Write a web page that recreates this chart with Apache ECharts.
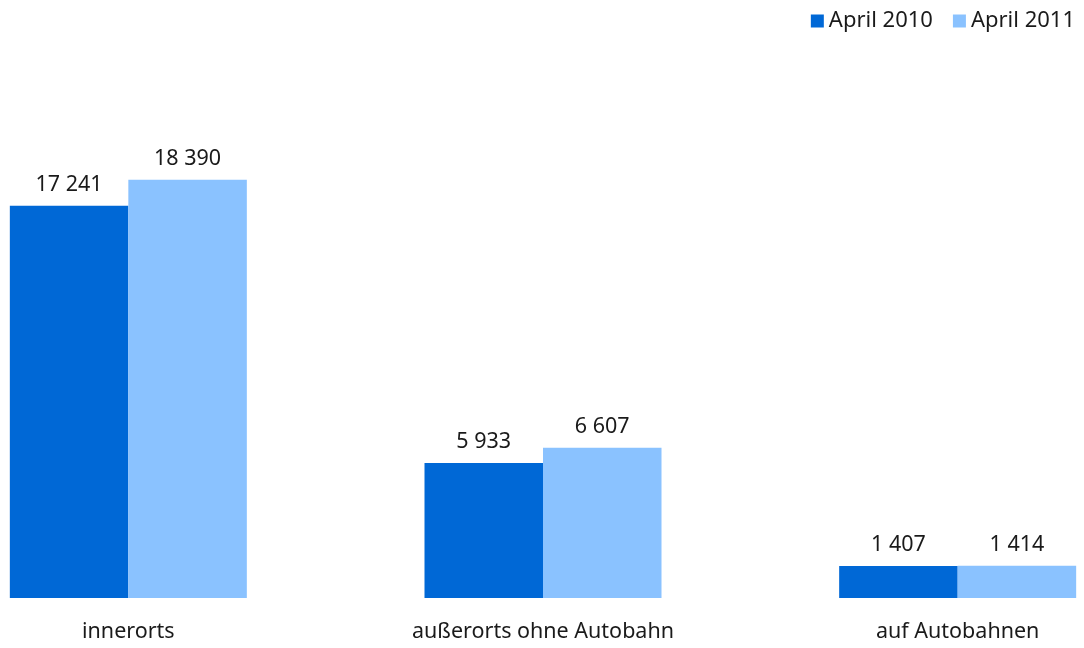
<!DOCTYPE html>
<html>
<head>
<meta charset="utf-8">
<script src="https://cdn.jsdelivr.net/npm/echarts@6/dist/echarts.min.js"></script>
<style>
  html, body { margin: 0; padding: 0; background: #fff; }
  #main { width: 1084px; height: 648px; }
</style>
</head>
<body>
<div id="main"></div>
<script>
// Kategorien und Werte
const categories = ['innerorts', 'außerorts ohne Autobahn', 'auf Autobahnen'];
const april2010 = [17241, 5933, 1407];
const april2011 = [18390, 6607, 1414];

const fontFamily = '"Noto Sans", "DejaVu Sans", sans-serif';

// Tausendertrennzeichen als Leerzeichen
const fmt = (v) => String(v).replace(/\B(?=(\d{3})+(?!\d))/g, ' ');

const chart = echarts.init(document.getElementById('main'));

const labelStyle = {
  show: true,
  position: 'top',
  distance: 10,
  color: '#1a1a1a',
  fontSize: 21.5,
  fontFamily: fontFamily,
  formatter: (p) => fmt(p.value)
};

const option = {
  animation: false,
  legend: {
    top: 5,
    right: 4,
    itemWidth: 13,
    itemHeight: 13,
    itemGap: 20,
    icon: 'rect',
    textStyle: { fontSize: 22, fontFamily: fontFamily, color: '#1a1a1a' },
    data: ['April 2010', 'April 2011']
  },
  grid: {
    left: -79,
    right: -81,
    top: 143,
    bottom: 50,
    outerBoundsMode: 'none'
  },
  xAxis: {
    type: 'category',
    data: categories,
    axisLine: { show: false },
    axisTick: { show: false },
    axisLabel: {
      margin: 23,
      fontSize: 21.5,
      fontFamily: fontFamily,
      color: '#1a1a1a'
    }
  },
  yAxis: {
    type: 'value',
    min: 0,
    max: 20000,
    show: false,
    splitLine: { show: false }
  },
  series: [
    {
      name: 'April 2010',
      type: 'bar',
      barWidth: 118.5,
      barGap: '0%',
      itemStyle: { color: '#0068D6' },
      label: labelStyle,
      data: april2010
    },
    {
      name: 'April 2011',
      type: 'bar',
      barWidth: 118.5,
      barGap: '0%',
      itemStyle: { color: '#8AC2FF' },
      label: labelStyle,
      data: april2011
    }
  ]
};

chart.setOption(option);
</script>
</body>
</html>
